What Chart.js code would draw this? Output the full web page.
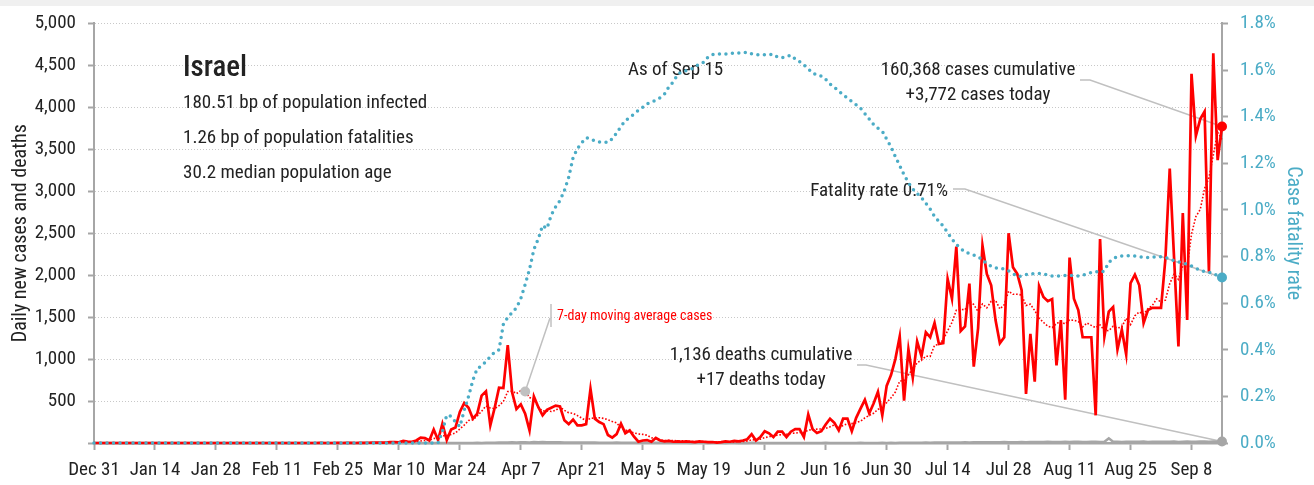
<!DOCTYPE html>
<html>
<head>
<meta charset="utf-8">
<title>Israel - daily cases and case fatality rate</title>
<script src="https://cdn.jsdelivr.net/npm/chart.js@4"></script>
<style>
  html, body { margin: 0; padding: 0; background: #fff; }
  #wrap { width: 1314px; height: 485px; }
</style>
</head>
<body>
<div id="wrap"><canvas id="covidChart" width="1314" height="485"></canvas></div>
<script>
// daily new cases, one array per month (Dec 31 - Sep 15)
const casesJanFeb = [
  0, 0, 0, 0, 0, 0, 0, 0, 0, 0, 0, 0, 0, 0, 0, 0, 0, 0, 0, 0,
  0, 0, 0, 0, 0, 0, 0, 0, 0, 0, 0, 0, 0, 0, 0, 0, 0, 0, 0, 0,
  0, 0, 0, 0, 0, 0, 0, 0, 0, 0, 0, 0, 1, 0, 0, 0, 1, 0, 1, 1, 0
];
const casesMar = [3, 2, 3, 5, 4, 6, 4, 10, 12, 8, 25, 18, 15, 30, 65, 60, 30, 160, 35, 230, 35, 160, 185, 370, 475, 420, 290, 350, 565, 615, 210];
const casesApr = [420, 660, 655, 1165, 605, 405, 460, 350, 150, 555, 430, 330, 395, 420, 445, 435, 270, 225, 280, 210, 210, 225, 645, 290, 250, 225, 95, 65, 105, 230];
const casesMay = [115, 150, 75, 15, 30, 35, 15, 60, 30, 20, 25, 15, 20, 15, 20, 15, 10, 20, 15, 10, 12, 5, 10, 20, 15, 25, 20, 30, 45, 105, 30];
const casesJun = [70, 140, 115, 70, 135, 135, 70, 135, 165, 165, 70, 340, 165, 120, 140, 220, 290, 240, 150, 290, 290, 140, 300, 410, 515, 355, 470, 610, 330, 680];
const casesJul = [810, 1000, 1270, 505, 1115, 780, 1210, 1035, 1320, 1260, 1430, 1180, 1190, 1955, 1720, 2340, 1335, 1390, 1900, 910, 1370, 2355, 2015, 1880, 1465, 1190, 1260, 2500, 2095, 2015, 1820];
const casesAug = [585, 1300, 730, 1870, 1740, 1690, 1715, 925, 1465, 515, 2210, 1720, 1585, 1260, 1260, 1260, 330, 2430, 1270, 1565, 1620, 1115, 1350, 1055, 1905, 2005, 1880, 1430, 1585, 1610, 1610];
const casesSep = [1610, 2190, 3270, 2200, 1150, 2740, 1465, 4400, 3660, 3860, 3950, 2040, 4645, 3370, 3772];

// daily deaths
const deathsJanFeb = [
  0, 0, 0, 0, 0, 0, 0, 0, 0, 0, 0, 0, 0, 0, 0, 0, 0, 0, 0, 0,
  0, 0, 0, 0, 0, 0, 0, 0, 0, 0, 0, 0, 0, 0, 0, 0, 0, 0, 0, 0,
  0, 0, 0, 0, 0, 0, 0, 0, 0, 0, 0, 0, 0, 0, 0, 0, 0, 0, 0, 0, 0
];
const deathsMar = [0, 0, 0, 0, 0, 0, 0, 0, 0, 0, 0, 0, 0, 0, 0, 0, 0, 0, 0, 1, 0, 0, 0, 0, 0, 1, 1, 2, 1, 3, 4];
const deathsApr = [4, 5, 6, 5, 8, 5, 9, 10, 7, 12, 8, 11, 10, 8, 9, 8, 7, 6, 7, 6, 5, 5, 6, 7, 4, 3, 4, 3, 5, 4];
const deathsMay = [3, 2, 4, 3, 2, 4, 3, 2, 3, 2, 3, 4, 2, 3, 2, 1, 3, 2, 2, 1, 2, 3, 2, 1, 2, 3, 1, 2, 1, 3, 2];
const deathsJun = [0, 1, 1, 0, 1, 0, 1, 1, 0, 1, 0, 1, 1, 0, 1, 2, 1, 0, 1, 0, 1, 1, 0, 2, 1, 0, 1, 1, 2, 1];
const deathsJul = [2, 1, 2, 3, 2, 3, 4, 3, 5, 4, 5, 6, 5, 7, 6, 6, 7, 8, 7, 9, 8, 10, 9, 8, 10, 9, 11, 10, 9, 10, 12];
const deathsAug = [10, 11, 12, 13, 12, 14, 13, 12, 11, 14, 13, 15, 14, 12, 13, 15, 14, 12, 16, 55, 14, 15, 13, 14, 16, 15, 14, 17, 13, 15, 16];
const deathsSep = [14, 16, 15, 17, 13, 15, 18, 16, 14, 19, 17, 15, 18, 16, 17];

// case fatality rate, percent
const cfrJanFeb = [
  0, 0, 0, 0, 0, 0, 0, 0, 0, 0, 0, 0, 0, 0, 0, 0, 0, 0, 0, 0,
  0, 0, 0, 0, 0, 0, 0, 0, 0, 0, 0, 0, 0, 0, 0, 0, 0, 0, 0, 0,
  0, 0, 0, 0, 0, 0, 0, 0, 0, 0, 0, 0, 0, 0, 0, 0, 0, 0, 0, 0, 0
];
const cfrMar = [0, 0, 0, 0, 0, 0, 0, 0, 0, 0, 0, 0, 0, 0, 0, 0, 0, 0, 0, 0.05, 0.12, 0.115, 0.09, 0.07, 0.14, 0.2, 0.27, 0.32, 0.33, 0.35, 0.37];
const cfrApr = [0.39, 0.40, 0.51, 0.538, 0.56, 0.58, 0.62, 0.68, 0.745, 0.83, 0.875, 0.933, 0.92, 0.978, 1.013, 1.04, 1.083, 1.14, 1.224, 1.263, 1.288, 1.309, 1.306, 1.295, 1.291, 1.291, 1.289, 1.305, 1.33, 1.358];
const cfrMay = [1.383, 1.396, 1.411, 1.427, 1.44, 1.455, 1.462, 1.47, 1.481, 1.497, 1.528, 1.549, 1.58, 1.594, 1.597, 1.603, 1.612, 1.627, 1.633, 1.656, 1.666, 1.669, 1.668, 1.669, 1.67, 1.674, 1.673, 1.674, 1.677, 1.67, 1.666];
const cfrJun = [1.665, 1.665, 1.666, 1.668, 1.655, 1.653, 1.658, 1.664, 1.648, 1.636, 1.622, 1.605, 1.588, 1.577, 1.574, 1.56, 1.54, 1.526, 1.51, 1.494, 1.479, 1.465, 1.451, 1.436, 1.413, 1.39, 1.366, 1.35, 1.338, 1.303];
const cfrJul = [1.27, 1.228, 1.19, 1.15, 1.117, 1.09, 1.07, 1.053, 1.028, 1.003, 0.972, 0.95, 0.93, 0.902, 0.875, 0.852, 0.834, 0.82, 0.812, 0.806, 0.80, 0.784, 0.77, 0.758, 0.751, 0.751, 0.746, 0.738, 0.727, 0.714, 0.716];
const cfrAug = [0.722, 0.726, 0.727, 0.727, 0.726, 0.72, 0.716, 0.716, 0.718, 0.719, 0.719, 0.718, 0.716, 0.72, 0.726, 0.731, 0.736, 0.731, 0.738, 0.775, 0.79, 0.80, 0.802, 0.803, 0.803, 0.802, 0.799, 0.797, 0.796, 0.796, 0.80];
const cfrSep = [0.799, 0.796, 0.789, 0.783, 0.777, 0.773, 0.766, 0.759, 0.75, 0.741, 0.735, 0.733, 0.727, 0.718, 0.71];

const cases = [].concat(casesJanFeb, casesMar, casesApr, casesMay, casesJun, casesJul, casesAug, casesSep);
const deaths = [].concat(deathsJanFeb, deathsMar, deathsApr, deathsMay, deathsJun, deathsJul, deathsAug, deathsSep);
const cfr = [].concat(cfrJanFeb, cfrMar, cfrApr, cfrMay, cfrJun, cfrJul, cfrAug, cfrSep);

// one label per day, starting Dec 31
const MONTHS = ['Jan', 'Feb', 'Mar', 'Apr', 'May', 'Jun', 'Jul', 'Aug', 'Sep', 'Oct', 'Nov', 'Dec'];
const dayLabels = cases.map((v, i) => {
  const d = new Date(2019, 11, 31 + i);
  return MONTHS[d.getMonth()] + ' ' + d.getDate();
});

// trailing 7-day mean of daily cases
const movingAvg = cases.map((v, i) => {
  const win = cases.slice(Math.max(0, i - 6), i + 1);
  return win.reduce((a, b) => a + b, 0) / win.length;
});

const last = cases.length - 1;
const avgMarkerDay = 99;

const RED = '#ff0000';
const TEAL = '#4bacc6';
const GREY = '#a6a6a6';
const LEADER = '#c0c0c0';
const INK = '#222222';
const FONT = "'Roboto Condensed', Roboto, sans-serif";

Chart.defaults.font.family = FONT;
Chart.defaults.color = INK;

const endPoint = (color) => ({
  pointRadius: c => (c.dataIndex === last ? 5 : 0),
  pointBackgroundColor: color,
  pointBorderWidth: 0,
  pointHoverRadius: 0
});

const annotations = {
  id: 'annotations',
  beforeDraw(chart) {
    const ctx = chart.ctx;
    ctx.save();
    ctx.fillStyle = '#f0f0f0';
    ctx.fillRect(0, 0, chart.width, 6);
    ctx.restore();
  },
  beforeDatasetsDraw(chart) {
    const {ctx, scales} = chart;
    const x = scales.x, y = scales.y, y1 = scales.y1;
    const ex = x.getPixelForValue(last);

    ctx.save();
    // leader lines to the latest values
    ctx.strokeStyle = LEADER;
    ctx.lineWidth = 1.5;
    const leader = (pts) => {
      ctx.beginPath();
      ctx.moveTo(pts[0][0], pts[0][1]);
      pts.slice(1).forEach(p => ctx.lineTo(p[0], p[1]));
      ctx.stroke();
    };
    leader([[1080, 80], [1090, 80], [ex, y.getPixelForValue(cases[last])]]);
    leader([[953, 189], [965, 189], [ex, y1.getPixelForValue(cfr[last])]]);
    leader([[857, 365], [866, 365], [ex, y.getPixelForValue(deaths[last])]]);

    const mx = x.getPixelForValue(avgMarkerDay);
    const my = y.getPixelForValue(movingAvg[avgMarkerDay]);
    leader([[551, 304], [551, 327]]);
    leader([[550, 318], [mx, my]]);

    // title block
    ctx.fillStyle = INK;
    ctx.textBaseline = 'alphabetic';
    ctx.textAlign = 'left';
    ctx.font = '500 29px ' + FONT;
    ctx.fillText('Israel', 183, 76);
    ctx.font = '19px ' + FONT;
    ctx.fillText('180.51 bp of population infected', 183, 108);
    ctx.fillText('1.26 bp of population fatalities', 183, 143);
    ctx.fillText('30.2 median population age', 183, 178);
    ctx.fillText('As of Sep 15', 628, 75);

    ctx.textAlign = 'center';
    ctx.fillText('160,368 cases cumulative', 978, 75);
    ctx.fillText('+3,772 cases today', 978, 100);
    ctx.fillText('1,136 deaths cumulative', 761, 360);
    ctx.fillText('+17 deaths today', 761, 385);

    ctx.textAlign = 'right';
    ctx.fillText('Fatality rate 0.71%', 948, 196);

    ctx.textAlign = 'left';
    ctx.fillStyle = RED;
    ctx.font = '14px ' + FONT;
    ctx.fillText('7-day moving average cases', 557, 320);
    ctx.restore();
  },
  afterDatasetsDraw(chart) {
    const {ctx, scales} = chart;
    const mx = scales.x.getPixelForValue(avgMarkerDay);
    const my = scales.y.getPixelForValue(movingAvg[avgMarkerDay]);
    ctx.save();
    ctx.fillStyle = LEADER;
    ctx.beginPath();
    ctx.arc(mx, my, 5, 0, Math.PI * 2);
    ctx.fill();
    ctx.restore();
  }
};

new Chart(document.getElementById('covidChart'), {
  type: 'line',
  data: {
    labels: dayLabels,
    datasets: [
      Object.assign({
        label: 'Case fatality rate',
        data: cfr,
        yAxisID: 'y1',
        borderColor: TEAL,
        borderWidth: 3.5,
        borderDash: [0, 6.5],
        borderCapStyle: 'round',
        clip: false
      }, endPoint(TEAL)),
      Object.assign({
        label: 'Daily new cases',
        data: cases,
        yAxisID: 'y',
        borderColor: RED,
        borderWidth: 2.7,
        borderJoinStyle: 'miter',
        clip: false
      }, endPoint(RED)),
      {
        label: '7-day moving average cases',
        data: movingAvg,
        yAxisID: 'y',
        borderColor: RED,
        borderWidth: 1.6,
        borderDash: [1.6, 1.8],
        pointRadius: 0,
        clip: false
      },
      Object.assign({
        label: 'Daily deaths',
        data: deaths,
        yAxisID: 'y',
        borderColor: GREY,
        borderWidth: 2.5,
        clip: false
      }, endPoint(GREY))
    ]
  },
  options: {
    responsive: false,
    animation: false,
    events: [],
    layout: { padding: { top: 18, left: 0, right: 0, bottom: 0 } },
    plugins: {
      legend: { display: false },
      tooltip: { enabled: false }
    },
    scales: {
      x: {
        type: 'category',
        afterFit: s => { s.height = 42; },
        ticks: {
          autoSkip: false,
          maxRotation: 0,
          minRotation: 0,
          padding: 9,
          color: INK,
          font: { size: 19 },
          callback: function (value, index) {
            return index % 14 === 0 ? this.getLabelForValue(value) : '';
          }
        },
        grid: {
          drawOnChartArea: false,
          drawTicks: true,
          tickLength: 7,
          tickWidth: 2,
          tickColor: c => (c.index % 14 === 0 ? GREY : 'rgba(0,0,0,0)')
        },
        border: { display: true, color: GREY, width: 2.5 }
      },
      y: {
        position: 'left',
        min: 0,
        max: 5000,
        afterFit: s => { s.width = 94; },
        ticks: {
          stepSize: 500,
          padding: 12,
          color: INK,
          font: { size: 19 },
          callback: v => (v === 0 ? '' : v.toLocaleString('en-US'))
        },
        grid: {
          color: '#c8c8c8',
          lineWidth: 1,
          drawTicks: true,
          tickLength: 6,
          tickWidth: 2,
          tickColor: GREY
        },
        border: { display: true, color: GREY, width: 2, dash: [1, 2] },
        title: {
          display: true,
          text: 'Daily new cases and deaths',
          color: INK,
          font: { size: 20 },
          padding: { top: 9, bottom: 0 }
        }
      },
      y1: {
        position: 'right',
        min: 0,
        max: 1.8,
        afterFit: s => { s.width = 92; },
        ticks: {
          stepSize: 0.2,
          padding: 12,
          color: TEAL,
          font: { size: 19 },
          callback: v => v.toFixed(1) + '%'
        },
        grid: {
          drawOnChartArea: false,
          drawTicks: true,
          tickLength: 6,
          tickWidth: 2,
          tickColor: GREY
        },
        border: { display: true, color: GREY, width: 2 },
        title: {
          display: true,
          text: 'Case fatality rate',
          color: TEAL,
          font: { size: 20 },
          padding: { top: 9, bottom: 0 }
        }
      }
    }
  },
  plugins: [annotations]
});
</script>
</body>
</html>
